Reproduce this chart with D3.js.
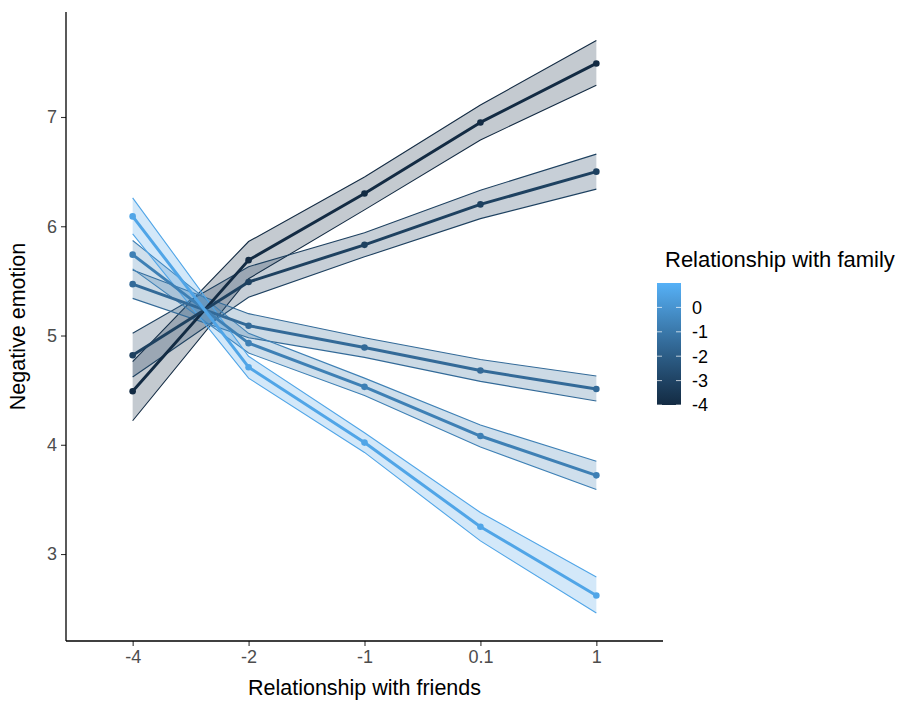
<!DOCTYPE html>
<html>
<head>
<meta charset="utf-8">
<script src="https://cdn.jsdelivr.net/npm/d3@7"></script>
<style>
body{margin:0;background:#fff;}
svg{display:block;font-family:"Liberation Sans",Arial,sans-serif;}
</style>
</head>
<body>
<svg id="chart" width="905" height="702"></svg>
<script>
// ---- data ----
const friendLevels = ["-4", "-2", "-1", "0.1", "1"];
const familyValues = [-4, -3.1, -1.5, -0.7, 0.6];
const familyLegendTicks = [0, -1, -2, -3, -4];
const familyDomain = [-4, 1];
const yTicks = [3, 4, 5, 6, 7];

const meanS1 = [4.49, 5.69, 6.30, 6.95, 7.49];
const lowS1  = [4.22, 5.52, 6.15, 6.79, 7.29];
const highS1 = [4.76, 5.86, 6.45, 7.11, 7.70];

const meanS2 = [4.82, 5.49, 5.83, 6.20, 6.50];
const lowS2  = [4.62, 5.35, 5.72, 6.07, 6.34];
const highS2 = [5.02, 5.63, 5.94, 6.33, 6.66];

const meanS3 = [5.47, 5.09, 4.89, 4.68, 4.51];
const lowS3  = [5.34, 4.98, 4.80, 4.58, 4.40];
const highS3 = [5.60, 5.20, 4.98, 4.78, 4.63];

const meanS4 = [5.74, 4.93, 4.53, 4.08, 3.72];
const lowS4  = [5.61, 4.84, 4.45, 3.98, 3.59];
const highS4 = [5.87, 5.02, 4.61, 4.18, 3.85];

const meanS5 = [6.09, 4.71, 4.02, 3.25, 2.62];
const lowS5  = [5.93, 4.61, 3.93, 3.12, 2.46];
const highS5 = [6.26, 4.81, 4.11, 3.38, 2.79];

const series = [
  {family: familyValues[0], mean: meanS1, low: lowS1, high: highS1},
  {family: familyValues[1], mean: meanS2, low: lowS2, high: highS2},
  {family: familyValues[2], mean: meanS3, low: lowS3, high: highS3},
  {family: familyValues[3], mean: meanS4, low: lowS4, high: highS4},
  {family: familyValues[4], mean: meanS5, low: lowS5, high: highS5}
];

// ---- layout ----
const svg = d3.select("#chart");
const pL = 66, pR = 663, pT = 12, pB = 641;

const x = d3.scalePoint().domain(friendLevels).range([pL, pR]).padding(0.575);
const y = d3.scaleLinear().domain([2.204, 7.961]).range([pB, pT]);
const color = d3.scaleSequential(d3.interpolateLab("#132B43", "#56B1F7")).domain(familyDomain);

const g = svg.append("g");

// ribbons
series.forEach(s => {
  const pts = friendLevels.map((f, i) => ({f, lo: s.low[i], hi: s.high[i]}));
  const area = d3.area().x(d => x(d.f)).y0(d => y(d.lo)).y1(d => y(d.hi));
  g.append("path").attr("d", area(pts))
    .attr("fill", color(s.family)).attr("fill-opacity", 0.25).attr("stroke", "none");
  const lineLo = d3.line().x(d => x(d.f)).y(d => y(d.lo));
  const lineHi = d3.line().x(d => x(d.f)).y(d => y(d.hi));
  g.append("path").attr("d", lineLo(pts)).attr("fill", "none")
    .attr("stroke", color(s.family)).attr("stroke-width", 1.1);
  g.append("path").attr("d", lineHi(pts)).attr("fill", "none")
    .attr("stroke", color(s.family)).attr("stroke-width", 1.1);
});

// lines
series.forEach(s => {
  const pts = friendLevels.map((f, i) => ({f, v: s.mean[i]}));
  const line = d3.line().x(d => x(d.f)).y(d => y(d.v));
  g.append("path").attr("d", line(pts)).attr("fill", "none")
    .attr("stroke", color(s.family)).attr("stroke-width", 3).attr("stroke-linejoin", "round");
});

// points
series.forEach(s => {
  g.selectAll(null).data(friendLevels.map((f, i) => ({f, v: s.mean[i]})))
    .enter().append("circle")
    .attr("cx", d => x(d.f)).attr("cy", d => y(d.v)).attr("r", 3.3)
    .attr("fill", color(s.family));
});

// axes
const xAxis = svg.append("g").attr("transform", `translate(0,${pB})`)
  .call(d3.axisBottom(x).tickSize(5).tickPadding(4));
const yAxis = svg.append("g").attr("transform", `translate(${pL},0)`)
  .call(d3.axisLeft(y).tickValues(yTicks).tickFormat(d3.format("d")).tickSize(5).tickPadding(4));
[xAxis, yAxis].forEach(a => {
  a.select(".domain").remove();
  a.selectAll(".tick line").attr("stroke", "#333").attr("stroke-width", 1.1);
  a.selectAll(".tick text").attr("fill", "#4d4d4d").style("font-size", "18px")
    .style("font-family", "'Liberation Sans',Arial,sans-serif");
});
svg.append("line").attr("x1", pL).attr("x2", pR).attr("y1", pB).attr("y2", pB)
  .attr("stroke", "#000").attr("stroke-width", 1.3);
svg.append("line").attr("x1", pL).attr("x2", pL).attr("y1", pT).attr("y2", pB)
  .attr("stroke", "#000").attr("stroke-width", 1.3);

// axis titles
svg.append("text").attr("x", (pL + pR) / 2).attr("y", 695).attr("text-anchor", "middle")
  .style("font-size", "21.5px").attr("fill", "#000").text("Relationship with friends");
svg.append("text").attr("transform", `translate(25,${(pT + pB) / 2}) rotate(-90)`)
  .attr("text-anchor", "middle").style("font-size", "21.5px").attr("fill", "#000")
  .text("Negative emotion");

// legend
const lgX = 657, lgW = 24, lgTop = 283, lgBot = 405;
const ly = d3.scaleLinear().domain(familyDomain).range([lgBot, lgTop]);
const defs = svg.append("defs");
const grad = defs.append("linearGradient").attr("id", "lg").attr("x1", 0).attr("x2", 0).attr("y1", 1).attr("y2", 0);
d3.range(0, 1.0001, 0.1).forEach(t => {
  grad.append("stop").attr("offset", t).attr("stop-color", color(familyDomain[0] + t * (familyDomain[1] - familyDomain[0])));
});
svg.append("rect").attr("x", lgX).attr("y", lgTop).attr("width", lgW).attr("height", lgBot - lgTop)
  .attr("fill", "url(#lg)");
familyLegendTicks.forEach(v => {
  svg.append("line").attr("x1", lgX).attr("x2", lgX + 5).attr("y1", ly(v)).attr("y2", ly(v))
    .attr("stroke", "#fff").attr("stroke-opacity", 0.7).attr("stroke-width", 1);
  svg.append("line").attr("x1", lgX + lgW - 5).attr("x2", lgX + lgW).attr("y1", ly(v)).attr("y2", ly(v))
    .attr("stroke", "#fff").attr("stroke-opacity", 0.7).attr("stroke-width", 1);
  svg.append("text").attr("x", 692).attr("y", ly(v)).attr("dy", "0.35em")
    .style("font-size", "18px").attr("fill", "#000").text(v);
});
svg.append("text").attr("x", 665).attr("y", 267).style("font-size", "22px").attr("fill", "#000")
  .text("Relationship with family");
</script>
</body>
</html>
